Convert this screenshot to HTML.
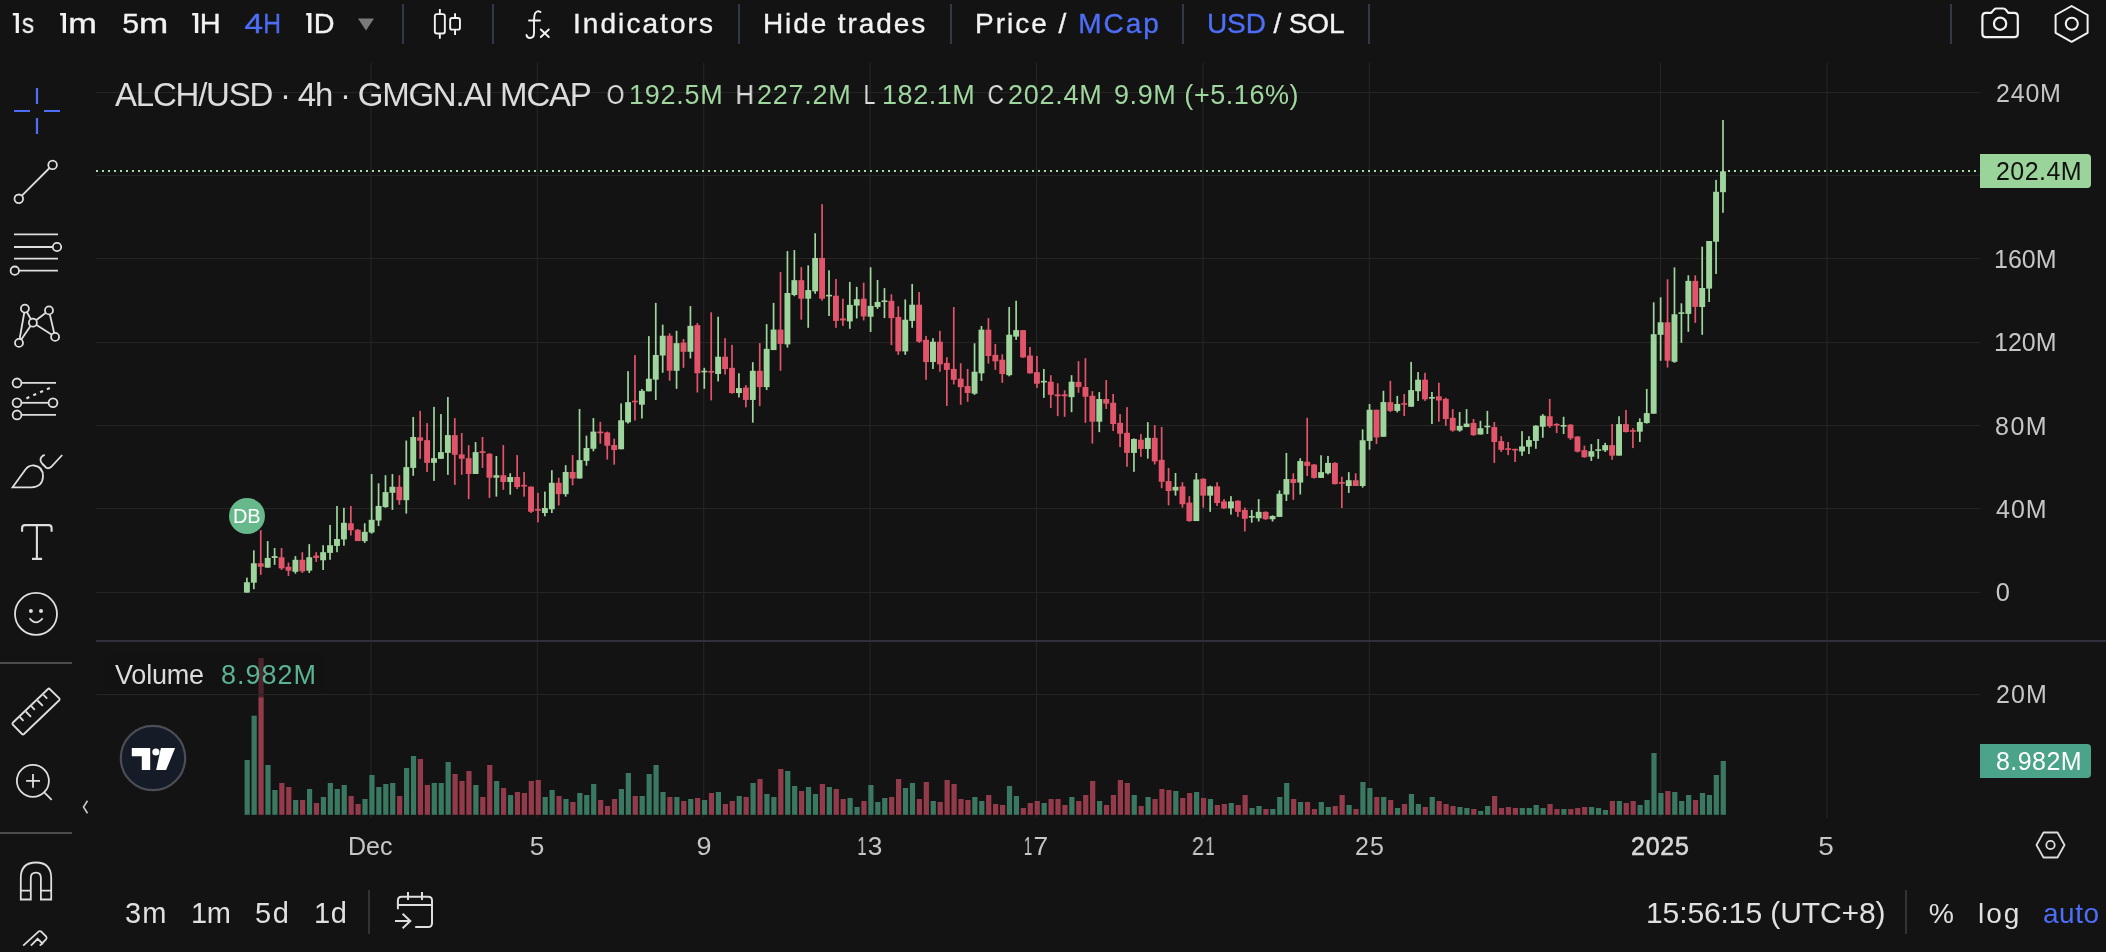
<!DOCTYPE html>
<html><head><meta charset="utf-8">
<style>
html,body{margin:0;padding:0;}
body{width:2106px;height:952px;background:#131313;position:relative;overflow:hidden;font-family:"Liberation Sans",sans-serif;}
.t{position:absolute;white-space:nowrap;line-height:1;will-change:transform;}
.tb{-webkit-text-stroke:0.35px currentColor;}
.tb{color:#f2f2f2;font-size:27px;top:10px;}
.blue{color:#4d6ef6;}
.sep{position:absolute;width:2px;background:#313847;}
.ax{color:#c6c6c6;font-size:24px;}
.gr{color:#9fd79f;}
svg{position:absolute;left:0;top:0;}
</style></head>
<body>
<svg width="2106" height="952" viewBox="0 0 2106 952">
<g fill="#242424"><rect x="96" y="92" width="1884" height="1.1"/><rect x="96" y="175" width="1884" height="1.1"/><rect x="96" y="258" width="1884" height="1.1"/><rect x="96" y="342" width="1884" height="1.1"/><rect x="96" y="425" width="1884" height="1.1"/><rect x="96" y="508" width="1884" height="1.1"/><rect x="96" y="592" width="1884" height="1.1"/><rect x="96" y="694" width="1884" height="1.1"/><rect x="370.3" y="62.7" width="1.2" height="755"/><rect x="536.7" y="62.7" width="1.2" height="755"/><rect x="703.1" y="62.7" width="1.2" height="755"/><rect x="869.5" y="62.7" width="1.2" height="755"/><rect x="1035.9" y="62.7" width="1.2" height="755"/><rect x="1202.3" y="62.7" width="1.2" height="755"/><rect x="1368.7" y="62.7" width="1.2" height="755"/><rect x="1659.9" y="62.7" width="1.2" height="755"/><rect x="1826.3" y="62.7" width="1.2" height="755"/></g>
<rect x="96" y="640" width="2010" height="2" fill="#32303c"/>
<g fill="#3b7862"><rect x="244.6" y="760" width="5.2" height="54.8"/><rect x="251.53" y="715.7" width="5.2" height="99.1"/><rect x="265.39" y="765" width="5.2" height="49.8"/><rect x="272.32" y="790" width="5.2" height="24.8"/><rect x="293.11" y="800" width="5.2" height="14.8"/><rect x="306.97" y="789" width="5.2" height="25.8"/><rect x="320.83" y="797" width="5.2" height="17.8"/><rect x="327.76" y="783" width="5.2" height="31.8"/><rect x="334.69" y="789" width="5.2" height="25.8"/><rect x="341.62" y="785" width="5.2" height="29.8"/><rect x="362.41" y="799" width="5.2" height="15.8"/><rect x="369.34" y="775" width="5.2" height="39.8"/><rect x="376.27" y="787" width="5.2" height="27.8"/><rect x="383.2" y="784" width="5.2" height="30.8"/><rect x="390.13" y="783" width="5.2" height="31.8"/><rect x="403.99" y="768" width="5.2" height="46.8"/><rect x="410.92" y="756" width="5.2" height="58.8"/><rect x="431.71" y="783" width="5.2" height="31.8"/><rect x="438.64" y="783" width="5.2" height="31.8"/><rect x="445.57" y="762" width="5.2" height="52.8"/><rect x="473.29" y="785" width="5.2" height="29.8"/><rect x="494.08" y="781" width="5.2" height="33.8"/><rect x="507.94" y="795" width="5.2" height="19.8"/><rect x="542.59" y="797" width="5.2" height="17.8"/><rect x="549.52" y="790" width="5.2" height="24.8"/><rect x="563.38" y="799" width="5.2" height="15.8"/><rect x="577.24" y="793" width="5.2" height="21.8"/><rect x="584.17" y="795" width="5.2" height="19.8"/><rect x="591.1" y="784" width="5.2" height="30.8"/><rect x="618.82" y="789" width="5.2" height="25.8"/><rect x="625.75" y="773" width="5.2" height="41.8"/><rect x="639.61" y="796" width="5.2" height="18.8"/><rect x="646.54" y="774" width="5.2" height="40.8"/><rect x="653.47" y="765" width="5.2" height="49.8"/><rect x="660.4" y="792" width="5.2" height="22.8"/><rect x="674.26" y="797" width="5.2" height="17.8"/><rect x="688.12" y="799" width="5.2" height="15.8"/><rect x="701.98" y="800" width="5.2" height="14.8"/><rect x="715.84" y="792" width="5.2" height="22.8"/><rect x="736.63" y="796" width="5.2" height="18.8"/><rect x="750.49" y="783" width="5.2" height="31.8"/><rect x="764.35" y="794" width="5.2" height="20.8"/><rect x="771.28" y="797" width="5.2" height="17.8"/><rect x="785.14" y="771" width="5.2" height="43.8"/><rect x="792.07" y="786" width="5.2" height="28.8"/><rect x="805.93" y="787" width="5.2" height="27.8"/><rect x="812.86" y="794" width="5.2" height="20.8"/><rect x="826.72" y="787" width="5.2" height="27.8"/><rect x="847.51" y="798" width="5.2" height="16.8"/><rect x="854.44" y="807" width="5.2" height="7.8"/><rect x="868.3" y="785" width="5.2" height="29.8"/><rect x="875.23" y="802" width="5.2" height="12.8"/><rect x="882.16" y="798" width="5.2" height="16.8"/><rect x="902.95" y="788" width="5.2" height="26.8"/><rect x="909.88" y="783" width="5.2" height="31.8"/><rect x="930.67" y="801" width="5.2" height="13.8"/><rect x="972.25" y="797" width="5.2" height="17.8"/><rect x="979.18" y="801" width="5.2" height="13.8"/><rect x="1006.9" y="786" width="5.2" height="28.8"/><rect x="1013.83" y="796" width="5.2" height="18.8"/><rect x="1041.55" y="803" width="5.2" height="11.8"/><rect x="1069.27" y="797" width="5.2" height="17.8"/><rect x="1096.99" y="801" width="5.2" height="13.8"/><rect x="1131.64" y="795" width="5.2" height="19.8"/><rect x="1145.5" y="797" width="5.2" height="17.8"/><rect x="1173.22" y="791" width="5.2" height="23.8"/><rect x="1194.01" y="792" width="5.2" height="22.8"/><rect x="1207.87" y="799" width="5.2" height="15.8"/><rect x="1228.66" y="803" width="5.2" height="11.8"/><rect x="1249.45" y="808" width="5.2" height="6.8"/><rect x="1256.38" y="806" width="5.2" height="8.8"/><rect x="1270.24" y="809" width="5.2" height="5.8"/><rect x="1277.17" y="797" width="5.2" height="17.8"/><rect x="1284.1" y="783" width="5.2" height="31.8"/><rect x="1297.96" y="802" width="5.2" height="12.8"/><rect x="1318.75" y="802" width="5.2" height="12.8"/><rect x="1325.68" y="807" width="5.2" height="7.8"/><rect x="1346.47" y="805" width="5.2" height="9.8"/><rect x="1360.33" y="782" width="5.2" height="32.8"/><rect x="1367.26" y="788" width="5.2" height="26.8"/><rect x="1381.12" y="797" width="5.2" height="17.8"/><rect x="1394.98" y="808" width="5.2" height="6.8"/><rect x="1408.84" y="794" width="5.2" height="20.8"/><rect x="1415.77" y="804" width="5.2" height="10.8"/><rect x="1429.63" y="797" width="5.2" height="17.8"/><rect x="1457.35" y="807" width="5.2" height="7.8"/><rect x="1464.28" y="808" width="5.2" height="6.8"/><rect x="1478.14" y="811" width="5.2" height="3.8"/><rect x="1485.07" y="806" width="5.2" height="8.8"/><rect x="1519.72" y="808" width="5.2" height="6.8"/><rect x="1526.65" y="808" width="5.2" height="6.8"/><rect x="1533.58" y="805" width="5.2" height="9.8"/><rect x="1540.51" y="808" width="5.2" height="6.8"/><rect x="1561.3" y="809" width="5.2" height="5.8"/><rect x="1589.02" y="807" width="5.2" height="7.8"/><rect x="1595.95" y="808" width="5.2" height="6.8"/><rect x="1602.88" y="810" width="5.2" height="4.8"/><rect x="1616.74" y="801" width="5.2" height="13.8"/><rect x="1637.53" y="805" width="5.2" height="9.8"/><rect x="1644.46" y="800" width="5.2" height="14.8"/><rect x="1651.39" y="753" width="5.2" height="61.8"/><rect x="1658.32" y="793" width="5.2" height="21.8"/><rect x="1672.18" y="792" width="5.2" height="22.8"/><rect x="1679.11" y="801" width="5.2" height="13.8"/><rect x="1686.04" y="795" width="5.2" height="19.8"/><rect x="1699.9" y="793" width="5.2" height="21.8"/><rect x="1706.83" y="795" width="5.2" height="19.8"/><rect x="1713.76" y="775" width="5.2" height="39.8"/><rect x="1720.69" y="761" width="5.2" height="53.8"/></g>
<g fill="#943b4b"><rect x="258.46" y="658" width="5.2" height="156.8"/><rect x="279.25" y="783" width="5.2" height="31.8"/><rect x="286.18" y="787" width="5.2" height="27.8"/><rect x="300.04" y="800" width="5.2" height="14.8"/><rect x="313.9" y="803" width="5.2" height="11.8"/><rect x="348.55" y="796" width="5.2" height="18.8"/><rect x="355.48" y="804" width="5.2" height="10.8"/><rect x="397.06" y="796" width="5.2" height="18.8"/><rect x="417.85" y="759" width="5.2" height="55.8"/><rect x="424.78" y="785" width="5.2" height="29.8"/><rect x="452.5" y="774" width="5.2" height="40.8"/><rect x="459.43" y="781" width="5.2" height="33.8"/><rect x="466.36" y="771" width="5.2" height="43.8"/><rect x="480.22" y="797" width="5.2" height="17.8"/><rect x="487.15" y="765" width="5.2" height="49.8"/><rect x="501.01" y="788" width="5.2" height="26.8"/><rect x="514.87" y="792" width="5.2" height="22.8"/><rect x="521.8" y="793" width="5.2" height="21.8"/><rect x="528.73" y="781" width="5.2" height="33.8"/><rect x="535.66" y="780" width="5.2" height="34.8"/><rect x="556.45" y="796" width="5.2" height="18.8"/><rect x="570.31" y="802" width="5.2" height="12.8"/><rect x="598.03" y="800" width="5.2" height="14.8"/><rect x="604.96" y="806" width="5.2" height="8.8"/><rect x="611.89" y="799" width="5.2" height="15.8"/><rect x="632.68" y="796" width="5.2" height="18.8"/><rect x="667.33" y="797" width="5.2" height="17.8"/><rect x="681.19" y="801" width="5.2" height="13.8"/><rect x="695.05" y="798" width="5.2" height="16.8"/><rect x="708.91" y="793" width="5.2" height="21.8"/><rect x="722.77" y="804" width="5.2" height="10.8"/><rect x="729.7" y="801" width="5.2" height="13.8"/><rect x="743.56" y="797" width="5.2" height="17.8"/><rect x="757.42" y="779" width="5.2" height="35.8"/><rect x="778.21" y="769" width="5.2" height="45.8"/><rect x="799" y="791" width="5.2" height="23.8"/><rect x="819.79" y="784" width="5.2" height="30.8"/><rect x="833.65" y="789" width="5.2" height="25.8"/><rect x="840.58" y="799" width="5.2" height="15.8"/><rect x="861.37" y="801" width="5.2" height="13.8"/><rect x="889.09" y="797" width="5.2" height="17.8"/><rect x="896.02" y="779" width="5.2" height="35.8"/><rect x="916.81" y="799" width="5.2" height="15.8"/><rect x="923.74" y="782" width="5.2" height="32.8"/><rect x="937.6" y="802" width="5.2" height="12.8"/><rect x="944.53" y="780" width="5.2" height="34.8"/><rect x="951.46" y="784" width="5.2" height="30.8"/><rect x="958.39" y="799" width="5.2" height="15.8"/><rect x="965.32" y="800" width="5.2" height="14.8"/><rect x="986.11" y="795" width="5.2" height="19.8"/><rect x="993.04" y="804" width="5.2" height="10.8"/><rect x="999.97" y="805" width="5.2" height="9.8"/><rect x="1020.76" y="808" width="5.2" height="6.8"/><rect x="1027.69" y="803" width="5.2" height="11.8"/><rect x="1034.62" y="801" width="5.2" height="13.8"/><rect x="1048.48" y="799" width="5.2" height="15.8"/><rect x="1055.41" y="799" width="5.2" height="15.8"/><rect x="1062.34" y="805" width="5.2" height="9.8"/><rect x="1076.2" y="801" width="5.2" height="13.8"/><rect x="1083.13" y="795" width="5.2" height="19.8"/><rect x="1090.06" y="781" width="5.2" height="33.8"/><rect x="1103.92" y="805" width="5.2" height="9.8"/><rect x="1110.85" y="795" width="5.2" height="19.8"/><rect x="1117.78" y="780" width="5.2" height="34.8"/><rect x="1124.71" y="783" width="5.2" height="31.8"/><rect x="1138.57" y="806" width="5.2" height="8.8"/><rect x="1152.43" y="799" width="5.2" height="15.8"/><rect x="1159.36" y="789" width="5.2" height="25.8"/><rect x="1166.29" y="790" width="5.2" height="24.8"/><rect x="1180.15" y="798" width="5.2" height="16.8"/><rect x="1187.08" y="793" width="5.2" height="21.8"/><rect x="1200.94" y="798" width="5.2" height="16.8"/><rect x="1214.8" y="805" width="5.2" height="9.8"/><rect x="1221.73" y="804" width="5.2" height="10.8"/><rect x="1235.59" y="805" width="5.2" height="9.8"/><rect x="1242.52" y="795" width="5.2" height="19.8"/><rect x="1263.31" y="809" width="5.2" height="5.8"/><rect x="1291.03" y="799" width="5.2" height="15.8"/><rect x="1304.89" y="802" width="5.2" height="12.8"/><rect x="1311.82" y="809" width="5.2" height="5.8"/><rect x="1332.61" y="806" width="5.2" height="8.8"/><rect x="1339.54" y="795" width="5.2" height="19.8"/><rect x="1353.4" y="809" width="5.2" height="5.8"/><rect x="1374.19" y="797" width="5.2" height="17.8"/><rect x="1388.05" y="800" width="5.2" height="14.8"/><rect x="1401.91" y="804" width="5.2" height="10.8"/><rect x="1422.7" y="807" width="5.2" height="7.8"/><rect x="1436.56" y="801" width="5.2" height="13.8"/><rect x="1443.49" y="804" width="5.2" height="10.8"/><rect x="1450.42" y="806" width="5.2" height="8.8"/><rect x="1471.21" y="809" width="5.2" height="5.8"/><rect x="1492" y="796" width="5.2" height="18.8"/><rect x="1498.93" y="808" width="5.2" height="6.8"/><rect x="1505.86" y="807" width="5.2" height="7.8"/><rect x="1512.79" y="808" width="5.2" height="6.8"/><rect x="1547.44" y="804" width="5.2" height="10.8"/><rect x="1554.37" y="809" width="5.2" height="5.8"/><rect x="1568.23" y="809" width="5.2" height="5.8"/><rect x="1575.16" y="808" width="5.2" height="6.8"/><rect x="1582.09" y="807" width="5.2" height="7.8"/><rect x="1609.81" y="801" width="5.2" height="13.8"/><rect x="1623.67" y="803" width="5.2" height="11.8"/><rect x="1630.6" y="801" width="5.2" height="13.8"/><rect x="1665.25" y="791" width="5.2" height="23.8"/><rect x="1692.97" y="800" width="5.2" height="14.8"/></g>
<rect x="106" y="653" width="218" height="44.5" fill="#131313" fill-opacity="0.55"/><rect x="96" y="694" width="1884" height="1.1" fill="#242424"/>
<g fill="#9ed59c"><rect x="246.05" y="577.6" width="1.7" height="15.02"/><rect x="243.95" y="582.22" width="5.9" height="10.4"/><rect x="252.98" y="550.33" width="1.7" height="38.83"/><rect x="250.88" y="563.27" width="5.9" height="19.41"/><rect x="266.84" y="541.08" width="1.7" height="26.58"/><rect x="264.74" y="557.95" width="5.9" height="9.71"/><rect x="273.77" y="548.01" width="1.7" height="16.87"/><rect x="271.67" y="556.1" width="5.9" height="1.85"/><rect x="294.56" y="556.1" width="1.7" height="17.56"/><rect x="292.46" y="559.8" width="5.9" height="12.02"/><rect x="308.42" y="544.09" width="1.7" height="28.89"/><rect x="306.32" y="557.26" width="5.9" height="13.4"/><rect x="322.28" y="545.24" width="1.7" height="24.73"/><rect x="320.18" y="552.17" width="5.9" height="8.09"/><rect x="329.21" y="524.9" width="1.7" height="34.9"/><rect x="327.11" y="545.24" width="5.9" height="7.63"/><rect x="336.14" y="505.95" width="1.7" height="46.22"/><rect x="334.04" y="539" width="5.9" height="6.93"/><rect x="343.07" y="507.8" width="1.7" height="37.9"/><rect x="340.97" y="522.82" width="5.9" height="16.64"/><rect x="363.86" y="523.29" width="1.7" height="19.64"/><rect x="361.76" y="531.84" width="5.9" height="9.24"/><rect x="370.79" y="474.06" width="1.7" height="59.63"/><rect x="368.69" y="519.82" width="5.9" height="12.71"/><rect x="377.72" y="483.3" width="1.7" height="42.75"/><rect x="375.62" y="505.95" width="5.9" height="14.56"/><rect x="384.65" y="475.22" width="1.7" height="32.59"/><rect x="382.55" y="492.09" width="5.9" height="15.02"/><rect x="391.58" y="474.06" width="1.7" height="35.82"/><rect x="389.48" y="486.77" width="5.9" height="6.01"/><rect x="405.44" y="440.55" width="1.7" height="73.03"/><rect x="403.34" y="467.13" width="5.9" height="33.05"/><rect x="412.37" y="416.95" width="1.7" height="58.89"/><rect x="410.27" y="437" width="5.9" height="30.9"/><rect x="433.16" y="406.86" width="1.7" height="74.02"/><rect x="431.06" y="458.18" width="5.9" height="4.67"/><rect x="440.09" y="414.05" width="1.7" height="44.77"/><rect x="437.99" y="452.13" width="5.9" height="6.68"/><rect x="447.02" y="397.02" width="1.7" height="77.81"/><rect x="444.92" y="435.11" width="5.9" height="17.78"/><rect x="474.74" y="442.04" width="1.7" height="31.9"/><rect x="472.64" y="452.13" width="5.9" height="21.82"/><rect x="495.53" y="456.04" width="1.7" height="40.61"/><rect x="493.43" y="475.21" width="5.9" height="2.52"/><rect x="509.39" y="473.22" width="1.7" height="21.42"/><rect x="507.29" y="477" width="5.9" height="5.04"/><rect x="544.04" y="491.61" width="1.7" height="24.7"/><rect x="541.94" y="507.99" width="5.9" height="5.04"/><rect x="550.97" y="470.19" width="1.7" height="42.84"/><rect x="548.87" y="482.79" width="5.9" height="26.46"/><rect x="564.83" y="465.15" width="1.7" height="31.5"/><rect x="562.73" y="471.96" width="5.9" height="22.18"/><rect x="578.69" y="408.95" width="1.7" height="69.56"/><rect x="576.59" y="460.11" width="5.9" height="18.4"/><rect x="585.62" y="435.67" width="1.7" height="29.99"/><rect x="583.52" y="448.01" width="5.9" height="12.85"/><rect x="592.55" y="418.02" width="1.7" height="33.27"/><rect x="590.45" y="431.63" width="5.9" height="17.14"/><rect x="620.27" y="403.41" width="1.7" height="45.87"/><rect x="618.17" y="420.29" width="5.9" height="28.98"/><rect x="627.2" y="371.15" width="1.7" height="52.42"/><rect x="625.1" y="402.15" width="5.9" height="20.16"/><rect x="641.06" y="389.04" width="1.7" height="29.49"/><rect x="638.96" y="390.81" width="5.9" height="13.86"/><rect x="647.99" y="336.12" width="1.7" height="55.19"/><rect x="645.89" y="378.71" width="5.9" height="12.6"/><rect x="654.92" y="302.9" width="1.7" height="97.04"/><rect x="652.82" y="355" width="5.9" height="24.69"/><rect x="661.85" y="324.63" width="1.7" height="48.15"/><rect x="659.75" y="335.74" width="5.9" height="19.75"/><rect x="675.71" y="330.8" width="1.7" height="58.02"/><rect x="673.61" y="343.15" width="5.9" height="27.65"/><rect x="689.57" y="306.11" width="1.7" height="52.35"/><rect x="687.47" y="325.86" width="5.9" height="25.93"/><rect x="703.43" y="367.84" width="1.7" height="20.99"/><rect x="701.33" y="370.74" width="5.9" height="1.6"/><rect x="717.29" y="316.73" width="1.7" height="64.69"/><rect x="715.19" y="356.73" width="5.9" height="17.28"/><rect x="738.08" y="373.27" width="1.7" height="24.2"/><rect x="735.98" y="388.09" width="5.9" height="4.94"/><rect x="751.94" y="362.16" width="1.7" height="60.49"/><rect x="749.84" y="370.8" width="5.9" height="29.14"/><rect x="765.8" y="324.14" width="1.7" height="65.93"/><rect x="763.7" y="348.83" width="5.9" height="38.27"/><rect x="772.73" y="302.9" width="1.7" height="47.16"/><rect x="770.63" y="329.57" width="5.9" height="20.49"/><rect x="786.59" y="251.05" width="1.7" height="96.54"/><rect x="784.49" y="293.02" width="5.9" height="51.36"/><rect x="793.52" y="250.06" width="1.7" height="46.17"/><rect x="791.42" y="280.19" width="5.9" height="14.81"/><rect x="807.38" y="265.37" width="1.7" height="62.47"/><rect x="805.28" y="290.06" width="5.9" height="8.64"/><rect x="814.31" y="233.27" width="1.7" height="60.49"/><rect x="812.21" y="257.96" width="5.9" height="33.33"/><rect x="828.17" y="270.31" width="1.7" height="45.68"/><rect x="826.07" y="294.82" width="5.9" height="1.6"/><rect x="848.96" y="281.91" width="1.7" height="46.91"/><rect x="846.86" y="304.88" width="5.9" height="16.54"/><rect x="855.89" y="286.85" width="1.7" height="31.6"/><rect x="853.79" y="299.2" width="5.9" height="6.42"/><rect x="869.75" y="267.27" width="1.7" height="64.71"/><rect x="867.65" y="305.87" width="5.9" height="10.86"/><rect x="876.68" y="279.98" width="1.7" height="28.89"/><rect x="874.58" y="301.94" width="5.9" height="5.08"/><rect x="883.61" y="288.07" width="1.7" height="30.04"/><rect x="881.51" y="300.44" width="5.9" height="1.6"/><rect x="904.4" y="299.39" width="1.7" height="55.47"/><rect x="902.3" y="319.73" width="5.9" height="31.66"/><rect x="911.33" y="283.91" width="1.7" height="43.91"/><rect x="909.23" y="304.71" width="5.9" height="16.18"/><rect x="932.12" y="338.22" width="1.7" height="30.74"/><rect x="930.02" y="341.69" width="5.9" height="20.34"/><rect x="973.7" y="343.3" width="1.7" height="51.54"/><rect x="971.6" y="371.73" width="5.9" height="21.96"/><rect x="980.63" y="325.97" width="1.7" height="55"/><rect x="978.53" y="329.67" width="5.9" height="43.68"/><rect x="1008.35" y="307.02" width="1.7" height="69.33"/><rect x="1006.25" y="334.75" width="5.9" height="40.44"/><rect x="1015.28" y="300.78" width="1.7" height="39.06"/><rect x="1013.18" y="330.13" width="5.9" height="6.47"/><rect x="1043" y="368.96" width="1.7" height="28.89"/><rect x="1040.9" y="380.87" width="5.9" height="1.6"/><rect x="1070.72" y="375.2" width="1.7" height="36.98"/><rect x="1068.62" y="381.67" width="5.9" height="15.48"/><rect x="1098.44" y="392.11" width="1.7" height="39.98"/><rect x="1096.34" y="399.04" width="5.9" height="22.65"/><rect x="1133.09" y="438.33" width="1.7" height="33.51"/><rect x="1130.99" y="439.02" width="5.9" height="13.87"/><rect x="1146.95" y="422.15" width="1.7" height="36.51"/><rect x="1144.85" y="437.86" width="5.9" height="11.09"/><rect x="1174.67" y="472.99" width="1.7" height="22.65"/><rect x="1172.57" y="486.86" width="5.9" height="3.7"/><rect x="1195.46" y="472.99" width="1.7" height="48.07"/><rect x="1193.36" y="479.46" width="5.9" height="41.6"/><rect x="1209.32" y="485.7" width="1.7" height="26.12"/><rect x="1207.22" y="486.4" width="5.9" height="9.24"/><rect x="1230.11" y="496.1" width="1.7" height="18.49"/><rect x="1228.01" y="501.42" width="5.9" height="6.93"/><rect x="1250.9" y="509.97" width="1.7" height="12.71"/><rect x="1248.8" y="515.98" width="5.9" height="1.62"/><rect x="1257.83" y="499.11" width="1.7" height="22.42"/><rect x="1255.73" y="511.82" width="5.9" height="6.47"/><rect x="1271.69" y="515.29" width="1.7" height="6.24"/><rect x="1269.59" y="515.98" width="5.9" height="3.24"/><rect x="1278.62" y="490.33" width="1.7" height="26.58"/><rect x="1276.52" y="493.79" width="5.9" height="23.11"/><rect x="1285.55" y="452.95" width="1.7" height="48.07"/><rect x="1283.45" y="479.06" width="5.9" height="15.48"/><rect x="1299.41" y="458.26" width="1.7" height="36.28"/><rect x="1297.31" y="461.04" width="5.9" height="21.49"/><rect x="1320.2" y="455.26" width="1.7" height="22.65"/><rect x="1318.1" y="472.13" width="5.9" height="5.78"/><rect x="1327.13" y="455.95" width="1.7" height="18.49"/><rect x="1325.03" y="462.89" width="5.9" height="10.4"/><rect x="1347.92" y="472.13" width="1.7" height="20.8"/><rect x="1345.82" y="480.22" width="5.9" height="5.78"/><rect x="1361.78" y="429.38" width="1.7" height="58.24"/><rect x="1359.68" y="440.24" width="5.9" height="45.76"/><rect x="1368.71" y="403.95" width="1.7" height="45.76"/><rect x="1366.61" y="409.73" width="5.9" height="31.2"/><rect x="1382.57" y="390.78" width="1.7" height="45.99"/><rect x="1380.47" y="402.11" width="5.9" height="34.67"/><rect x="1396.43" y="395.87" width="1.7" height="16.64"/><rect x="1394.33" y="403.95" width="5.9" height="6.93"/><rect x="1410.29" y="361.89" width="1.7" height="44.83"/><rect x="1408.19" y="390.09" width="5.9" height="16.64"/><rect x="1417.22" y="372.06" width="1.7" height="28.89"/><rect x="1415.12" y="379.69" width="5.9" height="11.56"/><rect x="1431.08" y="391.94" width="1.7" height="32.12"/><rect x="1428.98" y="397.02" width="5.9" height="1.62"/><rect x="1458.8" y="412.04" width="1.7" height="19.64"/><rect x="1456.7" y="425.91" width="5.9" height="4.62"/><rect x="1465.73" y="409.04" width="1.7" height="18.03"/><rect x="1463.63" y="423.6" width="5.9" height="3.47"/><rect x="1479.59" y="420.83" width="1.7" height="13.64"/><rect x="1477.49" y="428.22" width="5.9" height="6.24"/><rect x="1486.52" y="410.89" width="1.7" height="23.11"/><rect x="1484.42" y="425.69" width="5.9" height="1.6"/><rect x="1521.17" y="431.16" width="1.7" height="24.68"/><rect x="1519.07" y="446.39" width="5.9" height="5.04"/><rect x="1528.1" y="436.2" width="1.7" height="17.86"/><rect x="1526" y="440.08" width="5.9" height="6.62"/><rect x="1535.03" y="425.17" width="1.7" height="23.63"/><rect x="1532.93" y="425.69" width="5.9" height="15.23"/><rect x="1541.96" y="414.14" width="1.7" height="23.63"/><rect x="1539.86" y="415.71" width="5.9" height="11.03"/><rect x="1562.75" y="416.76" width="1.7" height="17.33"/><rect x="1560.65" y="425" width="5.9" height="1.6"/><rect x="1590.47" y="444.08" width="1.7" height="16.81"/><rect x="1588.37" y="451.22" width="5.9" height="5.46"/><rect x="1597.4" y="439.03" width="1.7" height="19.75"/><rect x="1595.3" y="449.26" width="5.9" height="1.6"/><rect x="1604.33" y="442.82" width="1.7" height="9.14"/><rect x="1602.23" y="445.13" width="5.9" height="5.25"/><rect x="1618.19" y="416.24" width="1.7" height="39.39"/><rect x="1616.09" y="424.12" width="5.9" height="31.51"/><rect x="1638.98" y="418.34" width="1.7" height="23.63"/><rect x="1636.88" y="422.02" width="5.9" height="9.66"/><rect x="1645.91" y="388.93" width="1.7" height="34.66"/><rect x="1643.81" y="413.09" width="5.9" height="9.98"/><rect x="1652.84" y="302.3" width="1.7" height="111.4"/><rect x="1650.74" y="334.2" width="5.9" height="79.5"/><rect x="1659.77" y="297.3" width="1.7" height="63.5"/><rect x="1657.67" y="322.3" width="5.9" height="12.5"/><rect x="1673.63" y="267.4" width="1.7" height="95.4"/><rect x="1671.53" y="314.3" width="5.9" height="47.5"/><rect x="1680.56" y="303.3" width="1.7" height="39.5"/><rect x="1678.46" y="312.3" width="5.9" height="1.6"/><rect x="1687.49" y="275.3" width="1.7" height="56.5"/><rect x="1685.39" y="280.9" width="5.9" height="33"/><rect x="1701.35" y="246.7" width="1.7" height="88.1"/><rect x="1699.25" y="288" width="5.9" height="19"/><rect x="1708.28" y="241" width="1.7" height="61"/><rect x="1706.18" y="241" width="5.9" height="47.6"/><rect x="1715.21" y="179.9" width="1.7" height="94.1"/><rect x="1713.11" y="191.8" width="5.9" height="49.9"/><rect x="1722.14" y="120" width="1.7" height="92.8"/><rect x="1720.04" y="171.3" width="5.9" height="20.9"/></g>
<g fill="#e15469"><rect x="259.91" y="530.22" width="1.7" height="44.6"/><rect x="257.81" y="563.27" width="5.9" height="3.47"/><rect x="280.7" y="548.01" width="1.7" height="21.96"/><rect x="278.6" y="557.26" width="5.9" height="11.09"/><rect x="287.63" y="562.57" width="1.7" height="13.4"/><rect x="285.53" y="566.73" width="5.9" height="3.93"/><rect x="301.49" y="552.17" width="1.7" height="20.8"/><rect x="299.39" y="559.8" width="5.9" height="11.56"/><rect x="315.35" y="552.17" width="1.7" height="9.71"/><rect x="313.25" y="555.64" width="5.9" height="2.31"/><rect x="350" y="505.95" width="1.7" height="29.58"/><rect x="347.9" y="523.29" width="5.9" height="6.93"/><rect x="356.93" y="529.06" width="1.7" height="12.02"/><rect x="354.83" y="529.76" width="5.9" height="11.32"/><rect x="398.51" y="475.22" width="1.7" height="29.58"/><rect x="396.41" y="486.77" width="5.9" height="13.4"/><rect x="419.3" y="410.9" width="1.7" height="47.92"/><rect x="417.2" y="437.38" width="5.9" height="3.4"/><rect x="426.23" y="423.13" width="1.7" height="48.93"/><rect x="424.13" y="440.15" width="5.9" height="22.7"/><rect x="453.95" y="418.08" width="1.7" height="66.83"/><rect x="451.85" y="435.11" width="5.9" height="19.67"/><rect x="460.88" y="432.96" width="1.7" height="41.87"/><rect x="458.78" y="454.4" width="5.9" height="4.41"/><rect x="467.81" y="445.2" width="1.7" height="53.97"/><rect x="465.71" y="458.18" width="5.9" height="15.76"/><rect x="481.67" y="437" width="1.7" height="30.9"/><rect x="479.57" y="451.25" width="5.9" height="1.64"/><rect x="488.6" y="453.14" width="1.7" height="44.77"/><rect x="486.5" y="453.77" width="5.9" height="23.96"/><rect x="502.46" y="444.99" width="1.7" height="44.86"/><rect x="500.36" y="475.23" width="5.9" height="6.8"/><rect x="516.32" y="455.07" width="1.7" height="34.02"/><rect x="514.22" y="477" width="5.9" height="10.08"/><rect x="523.25" y="471.96" width="1.7" height="24.7"/><rect x="521.15" y="484.89" width="5.9" height="1.6"/><rect x="530.18" y="486.57" width="1.7" height="26.46"/><rect x="528.08" y="486.57" width="5.9" height="25.2"/><rect x="537.11" y="492.87" width="1.7" height="29.49"/><rect x="535.01" y="509.08" width="5.9" height="1.6"/><rect x="557.9" y="477.75" width="1.7" height="27.72"/><rect x="555.8" y="482.79" width="5.9" height="11.34"/><rect x="571.76" y="455.07" width="1.7" height="30.24"/><rect x="569.66" y="471.96" width="5.9" height="6.55"/><rect x="599.48" y="421.8" width="1.7" height="21.93"/><rect x="597.38" y="431.59" width="5.9" height="1.6"/><rect x="606.41" y="431.63" width="1.7" height="27.97"/><rect x="604.31" y="432.39" width="5.9" height="13.36"/><rect x="613.34" y="438.69" width="1.7" height="25.96"/><rect x="611.24" y="444.99" width="5.9" height="5.04"/><rect x="634.13" y="355.02" width="1.7" height="65.52"/><rect x="632.03" y="400.72" width="5.9" height="1.6"/><rect x="668.78" y="333.27" width="1.7" height="47.41"/><rect x="666.68" y="335.74" width="5.9" height="35.06"/><rect x="682.64" y="338.95" width="1.7" height="28.89"/><rect x="680.54" y="342.65" width="5.9" height="9.14"/><rect x="696.5" y="322.9" width="1.7" height="69.63"/><rect x="694.4" y="325.12" width="5.9" height="48.15"/><rect x="710.36" y="312.28" width="1.7" height="88.15"/><rect x="708.26" y="370.99" width="5.9" height="1.6"/><rect x="724.22" y="338.21" width="1.7" height="36.3"/><rect x="722.12" y="356.73" width="5.9" height="12.35"/><rect x="731.15" y="344.88" width="1.7" height="48.89"/><rect x="729.05" y="367.84" width="5.9" height="25.19"/><rect x="745.01" y="385.12" width="1.7" height="22.22"/><rect x="742.91" y="387.59" width="5.9" height="12.35"/><rect x="758.87" y="343.15" width="1.7" height="62.96"/><rect x="756.77" y="370.8" width="5.9" height="16.3"/><rect x="779.66" y="272.04" width="1.7" height="98.77"/><rect x="777.56" y="329.57" width="5.9" height="14.32"/><rect x="800.45" y="267.1" width="1.7" height="52.59"/><rect x="798.35" y="280.19" width="5.9" height="18.52"/><rect x="821.24" y="204.14" width="1.7" height="96.54"/><rect x="819.14" y="257.96" width="5.9" height="40.74"/><rect x="835.1" y="278.95" width="1.7" height="48.89"/><rect x="833" y="295.74" width="5.9" height="25.19"/><rect x="842.03" y="298.7" width="1.7" height="27.16"/><rect x="839.93" y="318.46" width="5.9" height="1.98"/><rect x="862.82" y="282.65" width="1.7" height="37.78"/><rect x="860.72" y="298.7" width="5.9" height="17.78"/><rect x="890.54" y="294.31" width="1.7" height="50.84"/><rect x="888.44" y="300.78" width="5.9" height="17.33"/><rect x="897.47" y="306.33" width="1.7" height="48.53"/><rect x="895.37" y="316.96" width="5.9" height="34.43"/><rect x="918.26" y="292" width="1.7" height="50.84"/><rect x="916.16" y="304.71" width="5.9" height="36.98"/><rect x="925.19" y="335.91" width="1.7" height="43.91"/><rect x="923.09" y="339.84" width="5.9" height="22.19"/><rect x="939.05" y="330.83" width="1.7" height="40.91"/><rect x="936.95" y="341.69" width="5.9" height="22.65"/><rect x="945.98" y="357.17" width="1.7" height="48.76"/><rect x="943.88" y="362.95" width="5.9" height="6.93"/><rect x="952.91" y="307.02" width="1.7" height="77.42"/><rect x="950.81" y="368.96" width="5.9" height="10.86"/><rect x="959.84" y="363.18" width="1.7" height="41.6"/><rect x="957.74" y="378.66" width="5.9" height="8.55"/><rect x="966.77" y="368.96" width="1.7" height="32.82"/><rect x="964.67" y="386.06" width="5.9" height="6.93"/><rect x="987.56" y="318.11" width="1.7" height="45.53"/><rect x="985.46" y="329.67" width="5.9" height="26.35"/><rect x="994.49" y="344" width="1.7" height="25.88"/><rect x="992.39" y="354.86" width="5.9" height="6.47"/><rect x="1001.42" y="354.4" width="1.7" height="28.43"/><rect x="999.32" y="359.71" width="5.9" height="14.33"/><rect x="1022.21" y="330.13" width="1.7" height="27.73"/><rect x="1020.11" y="330.13" width="5.9" height="27.27"/><rect x="1029.14" y="347" width="1.7" height="26.58"/><rect x="1027.04" y="355.55" width="5.9" height="17.8"/><rect x="1036.07" y="356.02" width="1.7" height="31.89"/><rect x="1033.97" y="372.19" width="5.9" height="11.56"/><rect x="1049.93" y="375.2" width="1.7" height="32.82"/><rect x="1047.83" y="381.67" width="5.9" height="13.17"/><rect x="1056.86" y="383.29" width="1.7" height="32.82"/><rect x="1054.76" y="394.38" width="5.9" height="1.85"/><rect x="1063.79" y="390.22" width="1.7" height="26.58"/><rect x="1061.69" y="394.38" width="5.9" height="1.85"/><rect x="1077.65" y="361.14" width="1.7" height="31.66"/><rect x="1075.55" y="381.94" width="5.9" height="5.08"/><rect x="1084.58" y="358.13" width="1.7" height="64.71"/><rect x="1082.48" y="387.02" width="5.9" height="9.71"/><rect x="1091.51" y="391.18" width="1.7" height="52.46"/><rect x="1089.41" y="395.8" width="5.9" height="25.88"/><rect x="1105.37" y="380.09" width="1.7" height="28.89"/><rect x="1103.27" y="399.04" width="5.9" height="4.62"/><rect x="1112.3" y="393.95" width="1.7" height="36.98"/><rect x="1110.2" y="402.74" width="5.9" height="21.26"/><rect x="1119.23" y="414.06" width="1.7" height="33.05"/><rect x="1117.13" y="422.84" width="5.9" height="10.86"/><rect x="1126.16" y="407.13" width="1.7" height="59.63"/><rect x="1124.06" y="432.78" width="5.9" height="20.11"/><rect x="1140.02" y="433.94" width="1.7" height="22.88"/><rect x="1137.92" y="439.71" width="5.9" height="9.24"/><rect x="1153.88" y="425.15" width="1.7" height="39.29"/><rect x="1151.78" y="437.86" width="5.9" height="23.57"/><rect x="1160.81" y="427" width="1.7" height="61.24"/><rect x="1158.71" y="459.82" width="5.9" height="21.96"/><rect x="1167.74" y="467.91" width="1.7" height="37.44"/><rect x="1165.64" y="481.08" width="5.9" height="9.94"/><rect x="1181.6" y="482.24" width="1.7" height="25.42"/><rect x="1179.5" y="486.4" width="5.9" height="17.8"/><rect x="1188.53" y="496.1" width="1.7" height="25.65"/><rect x="1186.43" y="502.57" width="5.9" height="18.49"/><rect x="1202.39" y="478.31" width="1.7" height="29.35"/><rect x="1200.29" y="478.77" width="5.9" height="16.87"/><rect x="1216.25" y="482.24" width="1.7" height="23.8"/><rect x="1214.15" y="486.4" width="5.9" height="16.64"/><rect x="1223.18" y="499.11" width="1.7" height="9.94"/><rect x="1221.08" y="501.42" width="5.9" height="6.93"/><rect x="1237.04" y="500.26" width="1.7" height="16.64"/><rect x="1234.94" y="500.73" width="5.9" height="11.09"/><rect x="1243.97" y="507.66" width="1.7" height="23.8"/><rect x="1241.87" y="509.97" width="5.9" height="8.78"/><rect x="1264.76" y="511.36" width="1.7" height="8.55"/><rect x="1262.66" y="511.82" width="5.9" height="7.4"/><rect x="1292.48" y="473.29" width="1.7" height="26.58"/><rect x="1290.38" y="479.06" width="5.9" height="3.93"/><rect x="1306.34" y="417.82" width="1.7" height="58.24"/><rect x="1304.24" y="461.73" width="5.9" height="4.16"/><rect x="1313.27" y="464.04" width="1.7" height="14.56"/><rect x="1311.17" y="464.5" width="5.9" height="13.4"/><rect x="1334.06" y="462.19" width="1.7" height="22.19"/><rect x="1331.96" y="462.89" width="5.9" height="21.26"/><rect x="1340.99" y="476.75" width="1.7" height="31.2"/><rect x="1338.89" y="482.07" width="5.9" height="1.62"/><rect x="1354.85" y="473.29" width="1.7" height="12.71"/><rect x="1352.75" y="480.22" width="5.9" height="5.78"/><rect x="1375.64" y="409.73" width="1.7" height="34.2"/><rect x="1373.54" y="409.73" width="5.9" height="27.73"/><rect x="1389.5" y="380.84" width="1.7" height="31.2"/><rect x="1387.4" y="402.11" width="5.9" height="8.78"/><rect x="1403.36" y="394.02" width="1.7" height="21.96"/><rect x="1401.26" y="403.15" width="5.9" height="1.6"/><rect x="1424.15" y="372.75" width="1.7" height="28.2"/><rect x="1422.05" y="379.69" width="5.9" height="19.64"/><rect x="1438.01" y="382.69" width="1.7" height="39.06"/><rect x="1435.91" y="396.33" width="5.9" height="4.16"/><rect x="1444.94" y="397.71" width="1.7" height="28.2"/><rect x="1442.84" y="398.87" width="5.9" height="20.11"/><rect x="1451.87" y="409.04" width="1.7" height="22.65"/><rect x="1449.77" y="417.82" width="5.9" height="12.71"/><rect x="1472.66" y="418.98" width="1.7" height="16.87"/><rect x="1470.56" y="422.91" width="5.9" height="12.25"/><rect x="1493.45" y="422.02" width="1.7" height="40.97"/><rect x="1491.35" y="427.06" width="5.9" height="14.92"/><rect x="1500.38" y="436.2" width="1.7" height="15.76"/><rect x="1498.28" y="441.13" width="5.9" height="8.72"/><rect x="1507.31" y="441.97" width="1.7" height="13.13"/><rect x="1505.21" y="448.27" width="5.9" height="1.6"/><rect x="1514.24" y="448.8" width="1.7" height="13.13"/><rect x="1512.14" y="448.84" width="5.9" height="1.6"/><rect x="1548.89" y="398.91" width="1.7" height="28.89"/><rect x="1546.79" y="416.24" width="5.9" height="9.98"/><rect x="1555.82" y="423.07" width="1.7" height="9.98"/><rect x="1553.72" y="423.95" width="5.9" height="1.6"/><rect x="1569.68" y="424.12" width="1.7" height="15.76"/><rect x="1567.58" y="424.64" width="5.9" height="13.66"/><rect x="1576.61" y="436.2" width="1.7" height="16.28"/><rect x="1574.51" y="436.51" width="5.9" height="15.13"/><rect x="1583.54" y="445.65" width="1.7" height="12.08"/><rect x="1581.44" y="450.17" width="5.9" height="7.04"/><rect x="1611.26" y="424.12" width="1.7" height="35.71"/><rect x="1609.16" y="445.13" width="5.9" height="10.5"/><rect x="1625.12" y="409.94" width="1.7" height="22.58"/><rect x="1623.02" y="424.12" width="5.9" height="7.88"/><rect x="1632.05" y="428.11" width="1.7" height="19.96"/><rect x="1629.95" y="430.15" width="5.9" height="1.6"/><rect x="1666.7" y="279.3" width="1.7" height="88.3"/><rect x="1664.6" y="322.3" width="5.9" height="38.4"/><rect x="1694.42" y="275.3" width="1.7" height="47.6"/><rect x="1692.32" y="280.9" width="5.9" height="26"/></g>
<line x1="96" y1="171" x2="1980" y2="171" stroke="#a6dca6" stroke-width="2" stroke-dasharray="2 4"/>
</svg>

<!-- top toolbar -->
<svg style="left:0;top:0" width="400" height="40" fill="#f2f2f2"><path d="M12.8 12.9 H18.9 V33.1 H15.7 V15.5 H12.8 Z"/><path d="M60.1 12.9 H66 V33.1 H62.7 V15.5 H60.1 Z"/><path d="M192.2 12.9 H198.3 V33.1 H194.9 V15.5 H192.2 Z"/><path d="M306.2 12.9 H311.5 V33.1 H308.1 V15.5 H306.2 Z"/></svg>
<svg style="left:356px;top:16px" width="20" height="16"><path d="M2 2.5 H18 L10 14.5 Z" fill="#7a7a7a"/></svg>
<div class="sep" style="left:402px;top:4.3px;height:39.5px"></div>
<svg style="left:428px;top:6px" width="40" height="36" fill="none" stroke="#f2f2f2" stroke-width="1.9">
  <path d="M11.85 2.9 V8.15 M11.85 27.55 V32.8"/><rect x="6.85" y="8.15" width="10" height="19.4" rx="2"/>
  <path d="M27.05 7.2 V12.05 M27.05 23.65 V28.9"/><rect x="22.15" y="12.05" width="9.8" height="11.6" rx="2"/>
</svg>
<div class="sep" style="left:492px;top:4.3px;height:39.5px"></div>
<svg style="left:520px;top:6px" width="36" height="36" fill="none" stroke="#f2f2f2" stroke-width="1.9" stroke-linecap="round">
  <path d="M20.5 6 Q17 4 15 7.5 Q14 10 14 14 V27 Q14 32 10 32 Q7 32 6.5 29"/>
  <path d="M9 14.5 H20"/>
  <path d="M20.8 23.5 L28.8 31 M28.8 23.5 L20.8 31"/>
</svg>
<div class="sep" style="left:738px;top:4.3px;height:39.5px"></div>
<div class="sep" style="left:950px;top:4.3px;height:39.5px"></div>
<div class="sep" style="left:1182px;top:4.3px;height:39.5px"></div>
<div class="sep" style="left:1368px;top:4.3px;height:39.5px"></div>
<div class="sep" style="left:1950px;top:4.3px;height:39.5px"></div>
<svg style="left:1976px;top:3px" width="48" height="40" fill="none" stroke="#f2f2f2" stroke-width="2">
  <path d="M15.3 9.8 L18 6.6 Q18.9 5.5 20.3 5.5 H27.4 Q28.8 5.5 29.7 6.6 L32.2 9.8 H38.2 Q41.8 9.8 41.8 13.4 V30.6 Q41.8 34.2 38.2 34.2 H10 Q6.4 34.2 6.4 30.6 V13.4 Q6.4 9.8 10 9.8 Z" stroke-width="2.2" stroke-linejoin="round"/>
  <circle cx="24.1" cy="20.7" r="6.1" stroke-width="2.2"/>
</svg>
<svg style="left:2050px;top:3px" width="44" height="42" fill="none" stroke="#f2f2f2" stroke-width="2">
  <path d="M21.6 3 L37.6 12 V29.8 L21.6 38.8 L5.6 29.8 V12 Z" stroke-linejoin="round"/>
  <circle cx="21.8" cy="20.7" r="6" stroke-width="2.1"/>
</svg>

<!-- left toolbar -->
<svg style="left:0;top:60px" width="72" height="892" fill="none" stroke="#dedede" stroke-width="1.8">
  <g stroke="#4d6ef6" stroke-width="2.2"><path d="M14 51 H30 M44 51 H60 M37 28 V44 M37 58 V74"/></g>
  <circle cx="18.8" cy="138.8" r="4.3"/><circle cx="52.6" cy="104.9" r="4.3"/><path d="M21.9 135.7 L49.5 108"/>
  <path d="M14 174.4 H58 M14 187 H53 M14 198.7 H58 M19 210.7 H58"/><circle cx="57" cy="187" r="4.2"/><circle cx="14.8" cy="210.7" r="4.2"/>
  <g><circle cx="24.9" cy="248.6" r="4"/><circle cx="49" cy="250.4" r="4"/><circle cx="32.9" cy="262.7" r="4"/><circle cx="19" cy="282.9" r="4"/><circle cx="55.1" cy="276.9" r="4"/>
  <path d="M19.6 279 L24.3 252.5 M26.9 252 L30.9 259.3 M36 260.3 L45.9 252.8 M49.8 254.3 L54.2 273 M51.8 274.8 L36.2 264.8 M30.5 266 L21.3 279.6"/></g>
  <circle cx="17" cy="322.9" r="4.4"/><path d="M21.4 322.9 H56"/>
  <path d="M26.4 338.4 L51.3 327.3" stroke-dasharray="3.2 4.3" stroke-width="2.2"/>
  <circle cx="17" cy="342.8" r="4.4"/><circle cx="53" cy="342.8" r="4.4"/><path d="M21.4 342.8 H48.6"/>
  <circle cx="17" cy="354.9" r="4.4"/><path d="M21.4 354.9 H56"/>
  <path d="M12.6 427.3 L24 411.5 Q28 405 34 405.5 Q43 406.5 43 416.5 Q42.5 427 31.5 427.3 Z"/>
  <path d="M44.7 394.8 Q40.5 396.5 40.5 400 Q40.5 402 42.5 404 L46 407.5 Q48.5 409.2 51 407 L62.2 395"/>
  <path d="M22.1 471.8 V468 Q22.1 465.1 25 465.1 H48.7 Q51.6 465.1 51.6 468 V471.8 M36.9 465.1 V498.9 M32 498.9 H42.1" stroke-width="2.1"/>
  <circle cx="36" cy="553.9" r="21"/>
  <circle cx="30.9" cy="551" r="2" fill="#dedede" stroke="none"/><circle cx="41" cy="551" r="2" fill="#dedede" stroke="none"/>
  <path d="M29.6 558.2 Q36 566.5 42.6 558.2"/>
  <rect x="0" y="602" width="72" height="2" fill="#4d4d4d" stroke="none"/>
  <path d="M49.1 628.5 L59.5 638.6 Q60 639.6 59 640.5 L24 674 Q23 675 22 674 L12.6 664.5 Q12 663.5 13 662.5 L48 629 Q48.6 628.4 49.1 628.5 Z"/>
  <path d="M19.8 657 L23.5 660.8 M25.8 651.5 L31 656.8 M31.3 646.2 L34.8 649.8 M37.5 640.5 L42.8 645.8 M43.5 634.8 L47.2 638.6"/>
  <circle cx="32.9" cy="720.9" r="16"/><path d="M26.1 720.9 H40 M33 714 V727.8 M44.2 732.4 L51.7 739.8"/>
  <rect x="0" y="772" width="72" height="2" fill="#4d4d4d" stroke="none"/>
  <path d="M20.8 839.5 V818 Q20.8 802.5 36 802.5 Q51.2 802.5 51.2 818 V839.5 H40.9 V818 Q40.9 812.7 36 812.7 Q30.8 812.7 30.8 818 V839.5 Z M20.8 830.7 H30.8 M40.9 830.7 H51.2"/>
  <path d="M23.2 885.6 L38.5 871.6 Q40 870.5 41.5 871.8 L46.2 876.6 Q47.2 878 46 879.3 L39.8 885.6 M30.9 885.6 L37.6 878.8 L43.2 884.2"/>
  <path d="M87.5 740.8 L83.5 747 L87.5 753.3" stroke="#cfcfcf" stroke-width="1.6"/>
</svg>
<svg style="left:80px;top:795px" width="12" height="22" fill="none" stroke="#c8c8c8" stroke-width="1.6"><path d="M7.5 5.8 L3.5 12 L7.5 18.3"/></svg>

<!-- legend -->


<!-- DB badge -->
<div style="position:absolute;left:229px;top:498px;width:36px;height:36px;border-radius:50%;background:#67b88a"></div>

<!-- TV logo -->
<svg style="left:119px;top:724px" width="68" height="68">
  <circle cx="34" cy="34" r="32.2" fill="#161b28" stroke="#4d4e55" stroke-width="2.2"/>
  <path d="M12.8 23.9 H31.2 V46.1 H22.8 V32.2 H12.8 Z" fill="#fff"/><circle cx="36.9" cy="28" r="3.6" fill="#fff"/><path d="M41.9 23.9 H56.1 L47.1 46.1 H37.1 Z" fill="#fff"/>
</svg>
<!-- price axis -->
<div style="position:absolute;left:1980px;top:154px;width:111px;height:34px;background:#9bd49b;border-radius:0 4px 4px 0"></div>
<div style="position:absolute;left:1980px;top:744px;width:111px;height:34px;background:#4ba48a;border-radius:0 4px 4px 0"></div>

<!-- time axis -->
<svg style="left:2034px;top:829px" width="34" height="34" fill="none" stroke="#dcdcdc" stroke-width="1.8">
  <path d="M9.5 3.5 H23.5 L30.5 16 L23.5 28.5 H9.5 L2.5 16 Z" stroke-linejoin="round"/><circle cx="16.5" cy="16" r="4.2"/>
</svg>

<!-- bottom bar -->
<div class="sep" style="left:368px;top:890px;height:44px;background:#333;width:1.5px"></div>
<svg style="left:392px;top:888px" width="44" height="44" fill="none" stroke="#dedede" stroke-width="1.8">
  <path d="M5.9 21.3 V12.5 Q5.9 8.7 9.7 8.7 H36.2 Q40 8.7 40 12.5 V35.2 Q40 39 36.2 39 H23.2 M5.9 16.9 H40 M16 4 V11.9 M30 4 V11.9 M3 33 H18.3 M10.6 25.7 L18.3 33 L10.6 40.2" stroke-width="2"/>
</svg>
<div class="sep" style="left:1905px;top:890px;height:44px;background:#333;width:1.5px"></div>
<div class="t tb" id="tb1s_s" style="left:21.3px;top:9.7px;font-size:28px;color:#f2f2f2;transform:scaleX(0.872);transform-origin:50% 50%">s</div>
<div class="t tb" id="tb1m_m" style="left:71.2px;top:9.7px;font-size:28px;color:#f2f2f2;transform:scaleX(1.226);transform-origin:50% 50%">m</div>
<div class="t tb" id="tb5m_5" style="left:123.05px;top:9.7px;font-size:28px;color:#f2f2f2;transform:scaleX(1.082);transform-origin:50% 50%">5</div>
<div class="t tb" id="tb5m_m" style="left:142.45px;top:9.7px;font-size:28px;color:#f2f2f2;transform:scaleX(1.251);transform-origin:50% 50%">m</div>
<div class="t tb" id="tb1H_H" style="left:199.6px;top:9.7px;font-size:28px;color:#f2f2f2;transform:scaleX(1.034);transform-origin:50% 50%">H</div>
<div class="t tb" id="tb4H_4" style="left:245.5px;top:9.7px;font-size:28px;color:#4d6ef6;transform:scaleX(1.191);transform-origin:50% 50%">4</div>
<div class="t tb" id="tb4H_H" style="left:262px;top:9.7px;font-size:28px;color:#4d6ef6;transform:scaleX(0.882);transform-origin:50% 50%">H</div>
<div class="t tb" id="tb1D_D" style="left:313.95px;top:9.7px;font-size:28px;color:#f2f2f2;transform:scaleX(1.027);transform-origin:50% 50%">D</div>
<div class="t tb" id="tbInd" style="left:573.1px;top:9.7px;font-size:28px;color:#f2f2f2;letter-spacing:2.06px">Indicators</div>
<div class="t tb" id="tbHide" style="left:762.6px;top:9.7px;font-size:28px;color:#f2f2f2;letter-spacing:1.9px">Hide trades</div>
<div class="t tb" id="tbPrice" style="left:974.5px;top:9.7px;font-size:28px;color:#f2f2f2;letter-spacing:2px">Price / <span style="color:#4d6ef6">MCap</span></div>
<div class="t tb" id="tbUsd" style="left:1206.5px;top:9.7px;font-size:28px;color:#f2f2f2;letter-spacing:-0.12px"><span style="color:#4d6ef6">USD</span> / SOL</div>
<div class="t" id="lgTitle" style="left:115px;top:78.37px;font-size:33px;color:#dcdcdc;letter-spacing:-1.22px">ALCH/USD · 4h · GMGN.AI MCAP</div>
<div class="t" id="lgO" style="left:605.05px;top:82.14px;font-size:27px;color:#dcdcdc;transform:scaleX(0.837);transform-origin:50% 50%">O</div>
<div class="t" id="lgOv" style="left:629.1px;top:82.14px;font-size:27px;color:#9fd79f;letter-spacing:0.76px">192.5M</div>
<div class="t" id="lgH" style="left:734.8px;top:82.14px;font-size:27px;color:#dcdcdc;transform:scaleX(0.952);transform-origin:50% 50%">H</div>
<div class="t" id="lgHv" style="left:757px;top:82.14px;font-size:27px;color:#9fd79f;letter-spacing:0.76px">227.2M</div>
<div class="t" id="lgL" style="left:862px;top:82.14px;font-size:27px;color:#dcdcdc;transform:scaleX(0.769);transform-origin:50% 50%">L</div>
<div class="t" id="lgLv" style="left:881.6px;top:82.14px;font-size:27px;color:#9fd79f;letter-spacing:0.56px">182.1M</div>
<div class="t" id="lgC" style="left:986px;top:82.14px;font-size:27px;color:#dcdcdc;transform:scaleX(0.833);transform-origin:50% 50%">C</div>
<div class="t" id="lgCv" style="left:1008.2px;top:82.14px;font-size:27px;color:#9fd79f;letter-spacing:0.76px">202.4M</div>
<div class="t" id="lgChg" style="left:1114.2px;top:82.14px;font-size:27px;color:#9fd79f;letter-spacing:0.56px">9.9M (+5.16%)</div>
<div class="t" id="volT" style="left:115.4px;top:662.14px;font-size:27px;color:#dcdcdc;letter-spacing:-0.2px">Volume</div>
<div class="t" id="volV" style="left:220.8px;top:662.14px;font-size:27px;color:#5ab391;letter-spacing:1px">8.982M</div>
<div class="t" id="db" style="left:233.3px;top:506.07px;font-size:20px;color:#ffffff;letter-spacing:-0.2px">DB</div>
<div class="t" id="ax240" style="left:1996px;top:80.64px;font-size:25px;color:#c6c6c6;letter-spacing:0.79px">240M</div>
<div class="t" id="ax160" style="left:1994px;top:247.1px;font-size:25px;color:#c6c6c6">160M</div>
<div class="t" id="ax120" style="left:1994px;top:330.33px;font-size:25px;color:#c6c6c6">120M</div>
<div class="t" id="ax80" style="left:1995px;top:413.56px;font-size:25px;color:#c6c6c6;letter-spacing:1.5px">80M</div>
<div class="t" id="ax40" style="left:1996px;top:496.79px;font-size:25px;color:#c6c6c6;letter-spacing:1px">40M</div>
<div class="t" id="ax0" style="left:1995.5px;top:580.02px;font-size:25px;color:#c6c6c6;transform:scaleX(1.018);transform-origin:50% 50%">0</div>
<div class="t" id="ax20" style="left:1995.6px;top:682.14px;font-size:25px;color:#c6c6c6;letter-spacing:1.1px">20M</div>
<div class="t" id="tag1" style="left:1996px;top:158.74px;font-size:25px;color:#111111;letter-spacing:0.44px">202.4M</div>
<div class="t" id="tag2" style="left:1995.6px;top:748.84px;font-size:25px;color:#ffffff;letter-spacing:0.44px">8.982M</div>
<div class="t" id="tDec" style="left:347.7px;top:834.44px;font-size:25px;color:#c6c6c6">Dec</div>
<div class="t" id="t5" style="left:530.4px;top:834.44px;font-size:25px;color:#c6c6c6;transform:scaleX(1.048);transform-origin:50% 50%">5</div>
<div class="t" id="t9" style="left:697.3px;top:834.44px;font-size:25px;color:#c6c6c6;transform:scaleX(1.078);transform-origin:50% 50%">9</div>
<div class="t" id="t13_1" style="left:855.3px;top:834.44px;font-size:25px;color:#c6c6c6;transform:scaleX(0.675);transform-origin:50% 50%">1</div>
<div class="t" id="t13_3" style="left:867.9px;top:834.44px;font-size:25px;color:#c6c6c6;transform:scaleX(1.049);transform-origin:50% 50%">3</div>
<div class="t" id="t17_1" style="left:1021.15px;top:834.44px;font-size:25px;color:#c6c6c6;transform:scaleX(0.617);transform-origin:50% 50%">1</div>
<div class="t" id="t17_7" style="left:1034.1px;top:834.44px;font-size:25px;color:#c6c6c6;transform:scaleX(1.054);transform-origin:50% 50%">7</div>
<div class="t" id="t21_2" style="left:1190.65px;top:834.44px;font-size:25px;color:#c6c6c6;transform:scaleX(0.882);transform-origin:50% 50%">2</div>
<div class="t" id="t21_1" style="left:1203px;top:834.44px;font-size:25px;color:#c6c6c6;transform:scaleX(0.693);transform-origin:50% 50%">1</div>
<div class="t" id="t25" style="left:1354.5px;top:834.44px;font-size:25px;color:#c6c6c6;letter-spacing:1px">25</div>
<div class="t" id="t2025" style="left:1631.4px;top:834.44px;font-size:25px;color:#d8d8d8;letter-spacing:0.74px;-webkit-text-stroke:0.55px currentColor">2025</div>
<div class="t" id="t5b" style="left:1819px;top:834.44px;font-size:25px;color:#c6c6c6;transform:scaleX(1.116);transform-origin:50% 50%">5</div>
<div class="t" id="b3m" style="left:124.6px;top:898.75px;font-size:29px;color:#e0e0e0;letter-spacing:1.2px">3m</div>
<div class="t" id="b1m" style="left:191px;top:898.75px;font-size:29px;color:#e0e0e0;letter-spacing:-0.4px">1m</div>
<div class="t" id="b5d" style="left:255.4px;top:898.75px;font-size:29px;color:#e0e0e0;letter-spacing:1.6px">5d</div>
<div class="t" id="b1d" style="left:314px;top:898.75px;font-size:29px;color:#e0e0e0;letter-spacing:0.6px">1d</div>
<div class="t" id="bTime" style="left:1645.5px;top:897.9px;font-size:30px;color:#e0e0e0;letter-spacing:-0.09px">15:56:15 (UTC+8)</div>
<div class="t" id="bPct" style="left:1928.5px;top:899.6px;font-size:28px;color:#e0e0e0;transform:scaleX(1.011);transform-origin:50% 50%">%</div>
<div class="t" id="bLog" style="left:1978px;top:899.6px;font-size:28px;color:#e0e0e0;letter-spacing:2px">log</div>
<div class="t" id="bAuto" style="left:2042.6px;top:899.6px;font-size:28px;color:#4d6ef6;letter-spacing:0.54px">auto</div>
</body></html>
